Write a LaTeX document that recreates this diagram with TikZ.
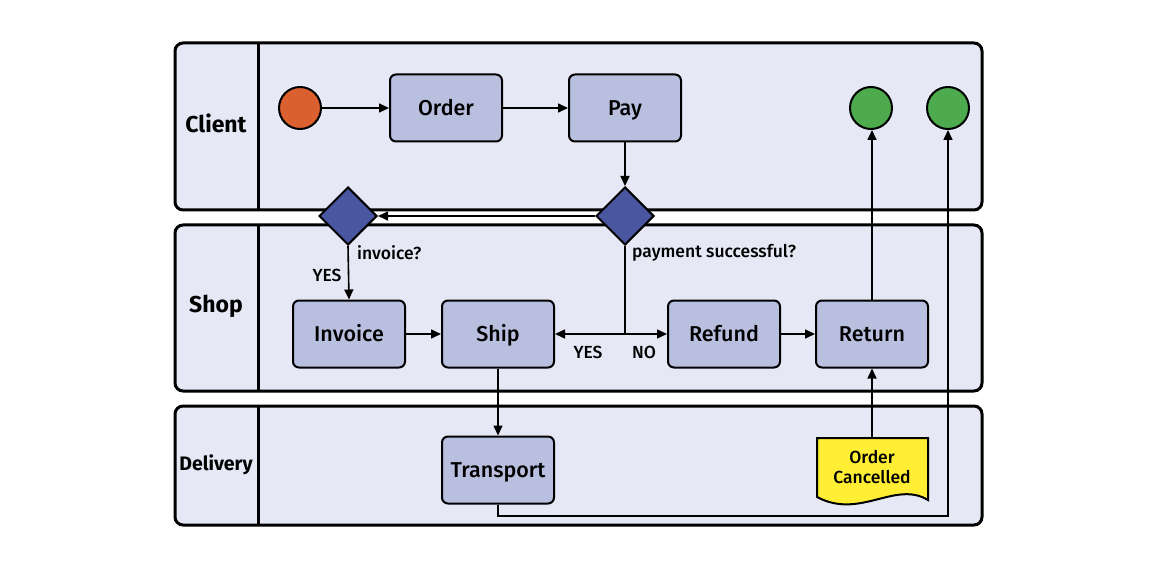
\documentclass[tikz,border=0pt]{standalone}
\usepackage{fontspec}
\setmainfont{Fira Sans}
\newfontfamily\fmed{Fira Sans Medium}
\usetikzlibrary{arrows.meta,shapes.geometric}
\definecolor{lanefill}{RGB}{230,232,245}
\definecolor{boxfill}{RGB}{185,192,223}
\definecolor{diafill}{RGB}{74,87,160}
\definecolor{startfill}{RGB}{218,96,48}
\definecolor{endfill}{RGB}{77,170,77}
\definecolor{docfill}{RGB}{255,238,51}
\tikzset{
  lane/.style={draw=black, line width=3pt, fill=lanefill, rounded corners=8pt},
  lanediv/.style={draw=black, line width=3pt},
  lanelabel/.style={font=\fontsize{23}{26}\selectfont\bfseries},
  stepbox/.style={draw=black, line width=2pt, fill=boxfill, rounded corners=6pt,
    minimum width=112pt, minimum height=67pt, inner sep=0pt,
    text height=15pt, text depth=0pt,
    font=\fontsize{21.5}{24}\fmed},
  decision/.style={diamond, draw=black, line width=2pt, fill=diafill, aspect=1,
    minimum width=58pt, minimum height=58pt, inner sep=0pt},
  startev/.style={circle, draw=black, line width=2pt, fill=startfill, minimum size=42pt, inner sep=0pt},
  endev/.style={circle, draw=black, line width=2pt, fill=endfill, minimum size=42pt, inner sep=0pt},
  flow/.style={draw=black, line width=1.6pt, -{Triangle[length=10pt,width=9pt]}},
  plainflow/.style={draw=black, line width=1.6pt},
  lbl/.style={font=\fontsize{17.5}{20}\fmed, inner sep=0pt},
}
\begin{document}
\begin{tikzpicture}[x=1pt,y=-1pt]
\useasboundingbox (0,0) rectangle (1165,564);
% lanes
\draw[lane] (175,43) rectangle (982,210);
\draw[lanediv] (258,43) -- (258,210);
\draw[lane] (175,225) rectangle (982,391);
\draw[lanediv] (258,225) -- (258,391);
\draw[lane] (175,406) rectangle (982,525);
\draw[lanediv] (258,406) -- (258,525);
\node[lanelabel] (lclient) at (216,123) {Client};
\node[lanelabel] (lshop) at (216,306) {Shop};
\node[lanelabel, font=\fontsize{19.5}{22}\selectfont\bfseries] (ldelivery) at (216,465) {Delivery};
% nodes
\node[startev] (start) at (300,108) {};
\node[stepbox] (order) at (446,108) {Order};
\node[stepbox] (pay) at (625,108) {Pay};
\node[endev] (end1) at (871,108) {};
\node[endev] (end2) at (948,108) {};
\node[decision] (paydec) at (625,216) {};
\node[decision] (invdec) at (348,216) {};
\node[stepbox] (invoice) at (349,334) {Invoice};
\node[stepbox] (ship) at (498,334) {Ship};
\node[stepbox] (refund) at (724,334) {Refund};
\node[stepbox] (return) at (872,334) {Return};
\node[stepbox] (transport) at (498,470) {Transport};
% document
\draw[draw=black, line width=2pt, fill=docfill]
  (817,438) -- (928,438) -- (928,500) .. controls (895,480) and (860,520) .. (817,497) -- cycle;
\node[align=center, inner sep=0pt,
  font=\fontsize{17.5}{20.5}\fmed] (cancel) at (872,467) {Order\\Cancelled};
\coordinate (cancelTop) at (872,438);
% labels
\node[lbl, anchor=west] (linv) at (357,253) {invoice?};
\node[lbl] (lyes1) at (327,275) {YES};
\node[lbl, anchor=west] (lpay) at (632,253) {payment successful?};
\node[lbl] (lyes2) at (588,352) {YES};
\node[lbl] (lno) at (644,352) {NO};
% connectors
\draw[flow] (start) -- (order);
\draw[flow] (order) -- (pay);
\draw[flow] (pay) -- (paydec);
\draw[flow] (paydec.west) -- (invdec.east);
\draw[flow] (invdec.south) -- (invoice.north);
\coordinate (split) at (625,334);
\draw[plainflow] (paydec.south) -- (split);
\draw[flow] (split) -- (ship.east);
\draw[flow] (split) -- (refund.west);
\draw[flow] (invoice) -- (ship);
\draw[flow] (refund) -- (return);
\draw[flow] (return.north) -- (return.north |- end1.south);
\draw[flow] (ship.south) -- (transport.north);
\coordinate (via) at (948,516);
\draw[flow] (transport.south) |- (via) -- (end2.south);
\draw[flow] (cancelTop) -- (return.south);
\end{tikzpicture}
\end{document}
